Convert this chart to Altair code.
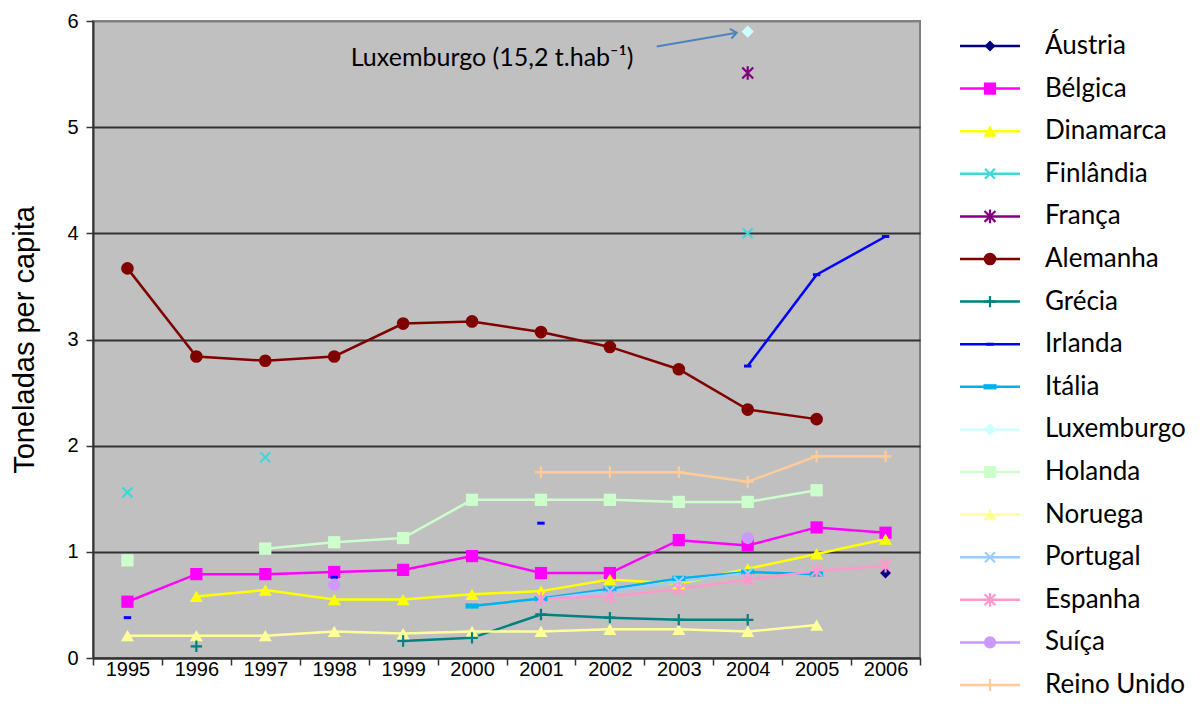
import altair as alt
import pandas as pd

# ---------------- data ----------------
anos = [1995, 1996, 1997, 1998, 1999, 2000, 2001, 2002, 2003, 2004, 2005, 2006]
paises = ["Áustria", "Bélgica", "Dinamarca", "Finlândia", "França", "Alemanha",
          "Grécia", "Irlanda", "Itália", "Luxemburgo", "Holanda", "Noruega",
          "Portugal", "Espanha", "Suíça", "Reino Unido"]
N = None
austria = [N, N, N, N, N, N, N, N, N, N, N, 0.80]
belgica = [0.53, 0.79, 0.79, 0.81, 0.83, 0.96, 0.80, 0.80, 1.11, 1.06, 1.23, 1.18]
dinamarca = [N, 0.58, 0.64, 0.55, 0.55, 0.60, 0.63, 0.74, 0.70, 0.84, 0.98, 1.12]
finlandia = [1.56, N, 1.89, N, N, N, N, N, N, 4.00, N, N]
franca = [N, N, N, N, N, N, N, N, N, 5.51, N, N]
alemanha = [3.67, 2.84, 2.80, 2.84, 3.15, 3.17, 3.07, 2.93, 2.72, 2.34, 2.25, N]
grecia = [N, 0.11, N, N, 0.16, 0.19, 0.41, 0.38, 0.36, 0.36, N, N]
irlanda = [0.38, N, N, 0.76, N, N, 1.27, N, N, 2.75, 3.61, 3.97]
italia = [N, N, N, N, N, 0.49, 0.56, 0.65, 0.75, 0.81, 0.79, N]
luxemburgo = [N, N, N, N, N, N, N, N, N, 5.90, N, N]
holanda = [0.92, N, 1.03, 1.09, 1.13, 1.49, 1.49, 1.49, 1.47, 1.47, 1.58, N]
noruega = [0.21, 0.21, 0.21, 0.25, 0.23, 0.25, 0.25, 0.27, 0.27, 0.25, 0.31, N]
portugal = [N, N, N, N, N, N, 0.55, 0.63, 0.72, 0.80, N, N]
espanha = [N, N, N, N, N, N, 0.56, 0.58, 0.65, 0.74, 0.82, 0.87]
suica = [N, N, N, 0.69, N, N, N, N, N, 1.13, N, N]
reino_unido = [N, N, N, N, N, N, 1.75, 1.75, 1.75, 1.66, 1.90, 1.90]

valores = [austria, belgica, dinamarca, finlandia, franca, alemanha, grecia, irlanda,
           italia, luxemburgo, holanda, noruega, portugal, espanha, suica, reino_unido]

nota_texto = "Luxemburgo (15,2 t.hab⁻¹)"
nota_pos = [3.24, 5.65]
seta_x = [7.68, 8.84]
seta_y = [5.76, 5.89]

# ---------------- styles ----------------
cores = ["#000080", "#ff00ff", "#ffff00", "#3dd9d9", "#800080", "#800000",
         "#008080", "#0000ff", "#00b0f0", "#ccffff", "#ccffcc", "#ffff99",
         "#99ccff", "#ff99cc", "#cc99ff", "#ffcc99"]
P_X = "M-1,-1L1,1M-1,1L1,-1"
P_AST = "M-1,-1L1,1M-1,1L1,-1M0,-1.25L0,1.25"
P_PLUS = "M0,-1L0,1M-1,0L1,0"
P_DASH = "M-1,-0.4L1,-0.4L1,0.4L-1,0.4Z"
formas = ["diamond", "square", "triangle-up", P_X, P_AST, "circle",
          P_PLUS, P_DASH, P_DASH, "diamond", "square", "triangle-up",
          P_X, P_AST, "circle", P_PLUS]
tamanhos = [120, 150, 170, 100, 120, 160, 130, 55, 170, 150, 150, 170, 100, 120, 150, 140]
vazados = ["Finlândia", "França", "Grécia", "Portugal", "Espanha", "Reino Unido"]
cheios = [p for p in paises if p not in vazados]

rows = []
for p, vals, t in zip(paises, valores, tamanhos):
    seg = 0
    for i, v in enumerate(vals):
        if v is None:
            seg += 1
            continue
        rows.append({"pais": p, "idx": i, "ano": anos[i], "valor": v,
                     "seg": f"{p}-{seg}", "tam": t})
df = pd.DataFrame(rows)

FONT_AX = "Liberation Sans"
FONT_TX = "Lato"

x_enc = alt.X("idx:Q",
              scale=alt.Scale(domain=[-0.5, 11.5], nice=False, zero=False),
              axis=alt.Axis(values=[i - 0.5 for i in range(13)],
                            labelExpr="datum.value < 11 ? format(datum.value + 1995.5, 'd') : ''",
                            labelOffset=34.46, labelFlush=False, title=None, grid=False,
                            tickSize=7, tickWidth=1.5, tickColor="#333333",
                            domainColor="#333333", domainWidth=2,
                            labelPadding=-6, labelFontSize=20, labelFont=FONT_AX,
                            labelColor="#000000"))
y_enc = alt.Y("valor:Q",
              scale=alt.Scale(domain=[0, 6], nice=False, zero=True),
              axis=alt.Axis(values=[0, 1, 2, 3, 4, 5, 6], title="Toneladas per capita",
                            titleFont=FONT_AX, titleFontSize=29, titleFontWeight="normal",
                            titleColor="#000000", titlePadding=27,
                            grid=True, gridWidth=2,
                            gridColor={"condition": {"test": "datum.value === 6", "value": "#808080"},
                                       "value": "#333333"},
                            tickSize=7, tickWidth=1.5, tickColor="#333333",
                            domainColor="#333333", domainWidth=2,
                            labelPadding=8, labelFontSize=20, labelFont=FONT_AX,
                            labelColor="#000000"))
color_enc = alt.Color("pais:N", scale=alt.Scale(domain=paises, range=cores), legend=None)
shape_enc = alt.Shape("pais:N", scale=alt.Scale(domain=paises, range=formas), legend=None)
size_enc = alt.Size("tam:Q", scale=None, legend=None)

base = alt.Chart(df)
linhas = base.mark_line(strokeWidth=2.5).encode(x=x_enc, y=y_enc, color=color_enc, detail="seg:N")
pts_cheios = base.transform_filter(alt.FieldOneOfPredicate(field="pais", oneOf=cheios)).mark_point(
    filled=True, opacity=1).encode(x=x_enc, y=y_enc, color=color_enc, shape=shape_enc, size=size_enc)
pts_vazados = base.transform_filter(alt.FieldOneOfPredicate(field="pais", oneOf=vazados)).mark_point(
    filled=False, opacity=1, strokeWidth=2.2).encode(x=x_enc, y=y_enc, color=color_enc, shape=shape_enc, size=size_enc)

nota_df = pd.DataFrame({"idx": [nota_pos[0]], "valor": [nota_pos[1]], "t": [nota_texto]})
nota = alt.Chart(nota_df).mark_text(align="left", baseline="middle", font=FONT_TX,
                                    fontSize=25, color="#000000").encode(x=x_enc, y=y_enc, text="t:N")
seta_df = pd.DataFrame({"idx": seta_x, "valor": seta_y})
seta = alt.Chart(seta_df).mark_line(color="#4f81bd", strokeWidth=2).encode(x=x_enc, y=y_enc)
ponta_df = pd.DataFrame({"idx": [seta_x[1]], "valor": [seta_y[1]]})
ponta = alt.Chart(ponta_df).mark_point(shape="M-1,-0.8L0,0L-1,0.8", filled=False, color="#4f81bd",
                                       strokeWidth=2, size=150, angle=351, opacity=1).encode(x=x_enc, y=y_enc)

principal = alt.layer(linhas, pts_cheios, pts_vazados, seta, ponta, nota).properties(
    width=827, height=637,
    view=alt.ViewBackground(fill="#c0c0c0", stroke="#808080", strokeWidth=2))

# ---------------- legend panel ----------------
leg_df = pd.DataFrame({"pais": paises, "tam": tamanhos})
ly = alt.Y("pais:N", scale=alt.Scale(type="point", domain=paises, range=[25, 664], padding=0), axis=None)
lbase = alt.Chart(leg_df)
l_rule = lbase.mark_rule(strokeWidth=2.5).encode(x=alt.value(10), x2=alt.value(70), y=ly, color=color_enc)
l_cheios = lbase.transform_filter(alt.FieldOneOfPredicate(field="pais", oneOf=cheios)).mark_point(
    filled=True, opacity=1).encode(x=alt.value(40), y=ly, color=color_enc, shape=shape_enc, size=size_enc)
l_vazados = lbase.transform_filter(alt.FieldOneOfPredicate(field="pais", oneOf=vazados)).mark_point(
    filled=False, opacity=1, strokeWidth=2.2).encode(x=alt.value(40), y=ly, color=color_enc, shape=shape_enc, size=size_enc)
l_txt = lbase.mark_text(align="left", baseline="middle", font=FONT_TX, fontSize=26,
                        color="#000000").encode(x=alt.value(95), y=ly, text="pais:N")
legenda = alt.layer(l_rule, l_cheios, l_vazados, l_txt).properties(
    width=240, height=660,
    view=alt.ViewBackground(fill="transparent", stroke="transparent", strokeWidth=0))

chart = alt.hconcat(principal, legenda, spacing=30, bounds="flush").properties(
    padding={"left": 1, "top": 2, "right": 0, "bottom": 0},
    background="#ffffff")

chart.save("out.html", embed_options={"renderer": "svg", "actions": False})
